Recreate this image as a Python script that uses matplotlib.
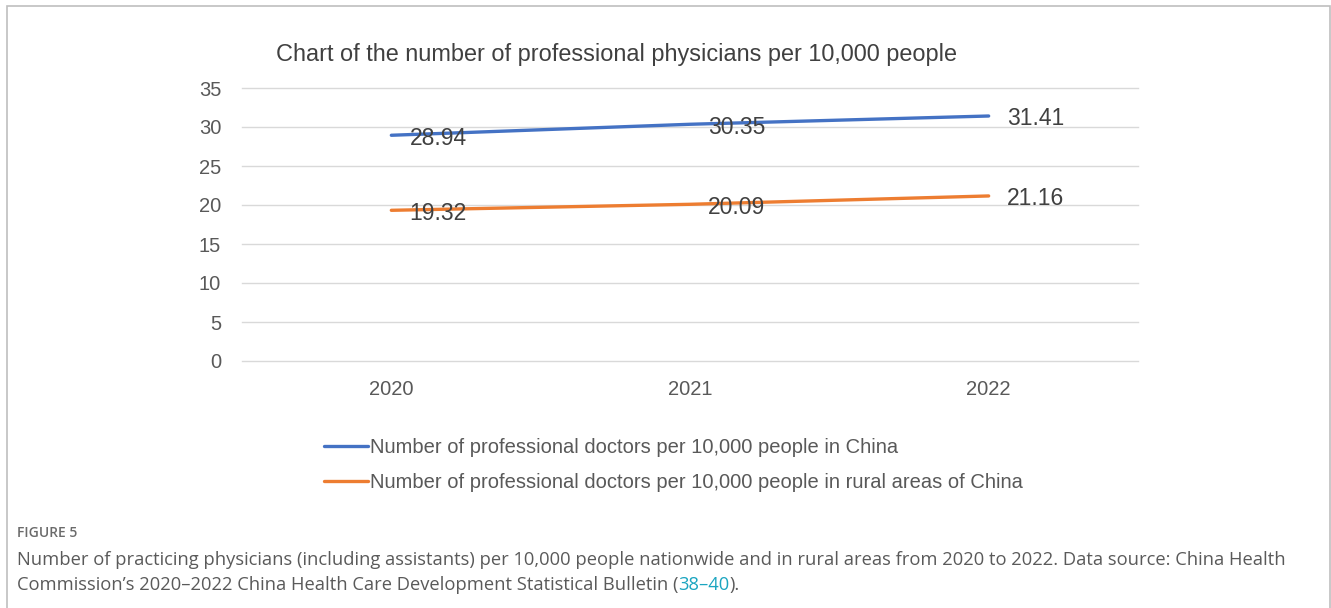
import numpy as np
import matplotlib
matplotlib.use('Agg')
import matplotlib.pyplot as plt
from matplotlib.patches import Rectangle

years = ["2020", "2021", "2022"]
china = [28.94, 30.35, 31.41]
rural = [19.32, 20.09, 21.16]
label_china = "Number of professional doctors per 10,000 people in China"
label_rural = "Number of professional doctors per 10,000 people in rural areas of China"
title = "Chart of the number of professional physicians per 10,000 people"

blue = "#4472C4"
orange = "#ED7D31"
txt = "#595959"

plt.rcParams['font.family'] = ['Liberation Sans', 'DejaVu Sans']

fig = plt.figure(figsize=(13.31, 6.08), dpi=100)
W, H = 1331, 608
ax = fig.add_axes([242 / W, 1 - 361 / H, (1138 - 242) / W, (361 - 88) / H])

x = np.arange(len(years))
l1, = ax.plot(x, china, color=blue, lw=2.4, solid_capstyle='round')
l2, = ax.plot(x, rural, color=orange, lw=2.4, solid_capstyle='round')
for xi, v in zip(x, china):
    ax.annotate(f"{v:.2f}", (xi, v), xytext=(13, -2), textcoords='offset points',
                va='center', ha='left', fontsize=16.5, color="#404040")
for xi, v in zip(x, rural):
    ax.annotate(f"{v:.2f}", (xi, v), xytext=(13, -2), textcoords='offset points',
                va='center', ha='left', fontsize=16.5, color="#404040")

ax.set_xlim(-0.5, 2.5)
ax.set_ylim(0, 35)
ax.set_yticks(range(0, 36, 5))
ax.set_xticks(x)
ax.set_xticklabels(years)
ax.grid(axis='y', color="#D9D9D9", lw=1)
for gl in ax.get_ygridlines():
    gl.set_clip_on(False)
ax.set_axisbelow(True)
for s in ax.spines.values():
    s.set_visible(False)
ax.tick_params(length=0, labelsize=14.5, colors=txt)
ax.tick_params(axis='y', pad=15)
ax.tick_params(axis='x', pad=14)

fig.text(616 / W, 1 - 54 / H, title, ha='center', va='center', fontsize=16.9, color="#404040")

leg = fig.legend([l1, l2], [label_china, label_rural], loc='center left',
                 bbox_to_anchor=(306 / W, 1 - 465 / H), frameon=False,
                 handlelength=2.2, handletextpad=0.1, labelspacing=0.75,
                 prop={'size': 14.5})
for t in leg.get_texts():
    t.set_color(txt)

# page frame and caption
fig.patches.append(Rectangle((7 / W, -0.1), (1330 - 7) / W, 1.1 - 6 / H, transform=fig.transFigure,
                             fill=False, edgecolor="#BFBFBF", lw=1.2))
cap_font = ['Open Sans', 'DejaVu Sans']
fig.text(17 / W, 1 - 533 / H, "FIGURE 5", fontsize=10, fontweight='semibold', color="#6b6b6b",
         family=cap_font, va='center')
cap1 = ("Number of practicing physicians (including assistants) per 10,000 people nationwide and in rural "
        "areas from 2020 to 2022. Data source: China Health")
fig.text(17 / W, 1 - 560 / H, cap1, fontsize=13.2, color="#5a5a5a", family=cap_font, va='center')
cap2a = "Commission\u2019s 2020\u20132022 China Health Care Development Statistical Bulletin ("
t2 = fig.text(17 / W, 1 - 585 / H, cap2a, fontsize=13.2, color="#5a5a5a", family=cap_font, va='center')
fig.canvas.draw()
bb = t2.get_window_extent()
t3 = fig.text(bb.x1 / W, 1 - 585 / H, "38\u201340", fontsize=13.2, color="#1BA5C0",
              family=cap_font, va='center')
fig.canvas.draw()
bb = t3.get_window_extent()
fig.text(bb.x1 / W, 1 - 585 / H, ").", fontsize=13.2, color="#5a5a5a", family=cap_font, va='center')

fig.savefig("out.png", dpi=100)
